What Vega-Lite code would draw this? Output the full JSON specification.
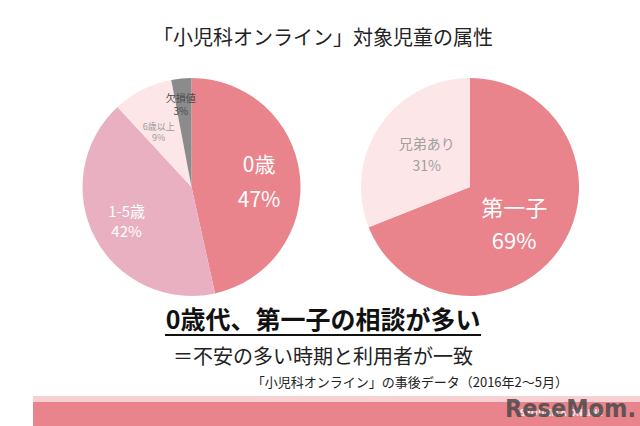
{
  "$schema": "https://vega.github.io/schema/vega-lite/v6.json",
  "padding": 0,
  "background": "white",
  "center": true,
  "spacing": 0,
  "config": {
    "view": {"stroke": null},
    "concat": {"spacing": 0},
    "font": "Noto Sans CJK JP",
    "text": {"font": "Noto Sans CJK JP", "baseline": "middle"}
  },
  "datasets": {
    "age": [
      {"cat": "0歳", "value": 47, "rank": 1, "label": "0歳\n47%"},
      {"cat": "1-5歳", "value": 42, "rank": 2, "label": "1-5歳\n42%"},
      {"cat": "6歳以上", "value": 9, "rank": 3, "label": "6歳以上\n9%"},
      {"cat": "欠損値", "value": 3, "rank": 4, "label": "欠損値\n3%"}
    ],
    "sib": [
      {"cat": "第一子", "value": 69, "rank": 1, "label": "第一子\n69%"},
      {"cat": "兄弟あり", "value": 31, "rank": 2, "label": "兄弟あり\n31%"}
    ],
    "blank": [{"t": ""}]
  },
  "vconcat": [
    {
      "width": 640, "height": 78,
      "data": {"values": [{"t": "「小児科オンライン」対象児童の属性"}]},
      "mark": {"type": "text", "fontSize": 20, "color": "#222"},
      "encoding": {"text": {"field": "t", "type": "nominal"}}
    },
    {
      "spacing": 0,
      "resolve": {"scale": {"color": "independent", "theta": "independent"}},
      "hconcat": [
        {
          "width": 294, "height": 218,
          "data": {"name": "age"},
          "encoding": {
            "theta": {"field": "value", "type": "quantitative", "stack": true},
            "order": {"field": "rank", "type": "quantitative"}
          },
          "layer": [
            {
              "mark": {"type": "arc"},
              "encoding": {
                "color": {"field": "cat", "type": "nominal", "legend": null,
                  "scale": {"domain": ["0歳", "1-5歳", "6歳以上", "欠損値"], "range": ["#e9848c", "#e9b0c2", "#fde6e8", "#8b8b8b"]}}
              }
            },
            {
              "mark": {"type": "text", "radius": 70, "fontSize": 21, "lineHeight": 35, "color": "white", "lineBreak": "\n", "dy": -13, "dx": -2},
              "encoding": {"text": {"condition": {"test": "datum.cat === '0歳'", "field": "label", "type": "nominal"}, "value": ""}}
            },
            {
              "mark": {"type": "text", "radius": 71, "fontSize": 15, "lineHeight": 20, "color": "white", "lineBreak": "\n", "dy": -8, "dx": -2},
              "encoding": {"text": {"condition": {"test": "datum.cat === '1-5歳'", "field": "label", "type": "nominal"}, "value": ""}}
            },
            {
              "mark": {"type": "text", "radius": 64, "fontSize": 9, "lineHeight": 11, "color": "#9a9a9a", "lineBreak": "\n", "dy": -3, "dx": -4},
              "encoding": {"text": {"condition": {"test": "datum.cat === '6歳以上'", "field": "label", "type": "nominal"}, "value": ""}}
            },
            {
              "mark": {"type": "text", "radius": 82, "fontSize": 10, "lineHeight": 13, "color": "#4a4a4a", "lineBreak": "\n", "dy": -6, "dx": -3},
              "encoding": {"text": {"condition": {"test": "datum.cat === '欠損値'", "field": "label", "type": "nominal"}, "value": ""}}
            }
          ]
        },
        {
          "width": 263, "height": 218,
          "data": {"name": "sib"},
          "encoding": {
            "theta": {"field": "value", "type": "quantitative", "stack": true},
            "order": {"field": "rank", "type": "quantitative"}
          },
          "layer": [
            {
              "mark": {"type": "arc"},
              "encoding": {
                "color": {"field": "cat", "type": "nominal", "legend": null,
                  "scale": {"domain": ["第一子", "兄弟あり"], "range": ["#e9848c", "#fde6e8"]}}
              }
            },
            {
              "mark": {"type": "text", "radius": 57, "fontSize": 22, "lineHeight": 33, "color": "white", "lineBreak": "\n", "dy": -10, "dx": -3},
              "encoding": {"text": {"condition": {"test": "datum.cat === '第一子'", "field": "label", "type": "nominal"}, "value": ""}}
            },
            {
              "mark": {"type": "text", "radius": 56, "fontSize": 14, "lineHeight": 22, "color": "#a0a0a0", "lineBreak": "\n", "dy": -11, "dx": 3},
              "encoding": {"text": {"condition": {"test": "datum.cat === '兄弟あり'", "field": "label", "type": "nominal"}, "value": ""}}
            }
          ]
        }
      ]
    },
    {
      "width": 322, "height": 50,
      "data": {"values": [{"t": "0歳代、第一子の相談が多い"}]},
      "layer": [
        {
          "mark": {"type": "text", "fontSize": 25, "fontWeight": "bold", "color": "#111"},
          "encoding": {"text": {"field": "t", "type": "nominal"}}
        },
        {
          "mark": {"type": "rule", "color": "#111", "strokeWidth": 2, "yOffset": -11},
          "encoding": {"x": {"value": 3}, "x2": {"value": 319}, "y": {"value": "height"}}
        }
      ]
    },
    {
      "width": 640, "height": 24,
      "data": {"values": [{"t": "＝不安の多い時期と利用者が一致"}]},
      "mark": {"type": "text", "fontSize": 20, "color": "#222"},
      "encoding": {"text": {"field": "t", "type": "nominal"}}
    },
    {
      "width": 490, "height": 26,
      "data": {"values": [{"t": "「小児科オンライン」の事後データ（2016年2～5月）"}]},
      "mark": {"type": "text", "fontSize": 13, "color": "#222", "align": "right"},
      "encoding": {"text": {"field": "t", "type": "nominal"}, "x": {"value": "width"}}
    },
    {
      "spacing": 0,
      "hconcat": [
        {
          "width": 30, "height": 30,
          "data": {"name": "blank"},
          "mark": {"type": "text"},
          "encoding": {"text": {"field": "t", "type": "nominal"}}
        },
        {
          "width": 610, "height": 30,
          "view": {"fill": "#e9848c", "stroke": null},
          "data": {"values": [{"brand": "SYOUNIKA ONLINE", "logo": "ReseMom."}]},
          "layer": [
            {
              "mark": {"type": "rule", "color": "#f8d0d4", "strokeWidth": 6},
              "encoding": {"x": {"value": 0}, "x2": {"value": "width"}, "y": {"value": 3}}
            },
            {
              "mark": {"type": "text", "font": "DejaVu Sans", "fontSize": 8, "fontWeight": "bold", "color": "white", "opacity": 0.8, "align": "right", "dx": -40, "dy": 3},
              "encoding": {"text": {"field": "brand", "type": "nominal"}, "x": {"value": "width"}}
            },
            {
              "mark": {"type": "text", "font": "DejaVu Sans Condensed", "fontSize": 25, "letterSpacing": -1.2, "fontWeight": "bold", "color": "#4a4a4a", "opacity": 0.85, "align": "right", "dx": -7, "dy": -2},
              "encoding": {"text": {"field": "logo", "type": "nominal"}, "x": {"value": "width"}}
            }
          ]
        }
      ]
    }
  ]
}
